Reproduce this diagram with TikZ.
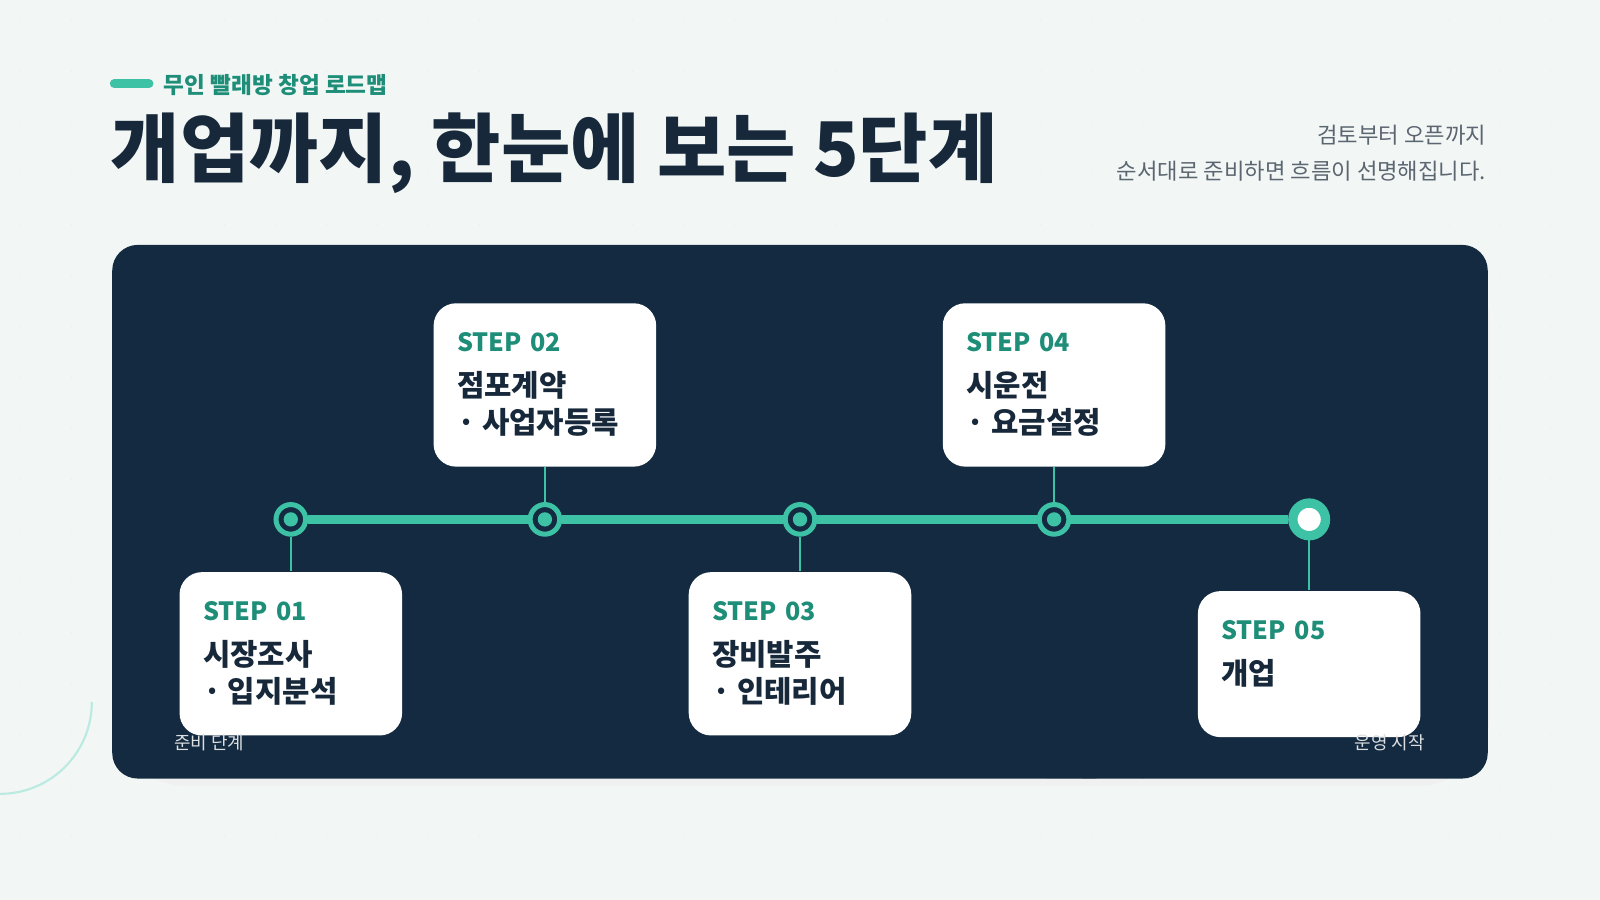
\documentclass[tikz,border=0pt]{standalone}
\usepackage{fontspec}
\setmainfont{Noto Sans CJK KR}
\usetikzlibrary{positioning}
\definecolor{bgpale}{HTML}{F2F7F6}
\definecolor{navy}{HTML}{132A40}
\definecolor{mint}{HTML}{3DC2A6}
\definecolor{teal}{HTML}{1E8E78}
\definecolor{ink}{HTML}{16283A}
\definecolor{greytext}{HTML}{5C6670}
\tikzstyle{card} = [draw=none, fill=white, rounded corners=2.2mm, minimum width=2.18cm, minimum height=1.6cm, inner sep=0pt]
\tikzstyle{dot} = [circle, draw=mint, line width=1.4pt, fill=navy, minimum size=0.29cm, inner sep=0pt]
\tikzstyle{core} = [circle, fill=mint, minimum size=0.14cm, inner sep=0pt]
\tikzstyle{steplabel} = [anchor=west, font=\fontsize{7}{8}\selectfont\bfseries, text=teal, inner sep=0pt]
\tikzstyle{tasktext} = [anchor=west, font=\fontsize{8.3}{9}\selectfont\bfseries, text=ink, inner sep=0pt]
\tikzstyle{stem} = [draw=mint, line width=0.7pt]
\tikzstyle{endnote} = [font=\fontsize{5}{6}\selectfont, text=white!85!navy, inner sep=0pt]
\begin{document}
\begin{tikzpicture}[x=0.01cm, y=-0.01cm, node distance=5mm]
    \fill [bgpale] (0,0) rectangle (1568,882);
    \useasboundingbox (0,0) rectangle (1568,882);
    % Background dots and arcs.
    \foreach \i in {0,...,31} {
        \foreach \j in {0,...,17} {
            \fill [black!7] (20+\i*50,20+\j*50) circle (0.6);
        }
    }
    \draw [mint!35, line width=0.6pt] (1410,0) arc (180:270:150);
    \draw [mint!35, line width=0.6pt] (0,778) arc (90:0:90);

    % Header.
    \draw [mint, line width=2.5pt, line cap=round] (112,82) -- (146,82);
    \node (kicker) [anchor=west, text=teal, font=\fontsize{6.3}{7}\selectfont\bfseries, inner sep=0pt] at (160,83) {무인 빨래방 창업 로드맵};
    \node (title) [anchor=west, text=ink, font=\fontsize{21}{24}\selectfont\bfseries, inner sep=0pt] at (108,150) {개업까지, 한눈에 보는 5단계};
    \node (intro) [anchor=north east, align=right, text=greytext, font=\fontsize{6.2}{10}\selectfont, inner sep=0pt] at (1457,122) {검토부터 오픈까지\\순서대로 준비하면 흐름이 선명해집니다.};

    % Panel.
    \fill [black!6, rounded corners=7mm] (112,246) rectangle (1460,770);
    \fill [navy, rounded corners=2.5mm] (110,240) rectangle (1458,763);
    \begin{scope}
        \clip [rounded corners=2.5mm] (110,240) rectangle (1458,763);
        \draw [white!6!navy, line width=0.6pt] (1120,763) arc (180:80:340);
        \draw [white!4!navy, line width=14pt] (1050,763) arc (180:90:420);
    \end{scope}

    % Timeline.
    \node (c1) [dot] at (285,509) {};
    \node (c2) [dot] at (534,509) {};
    \node (c3) [dot] at (784,509) {};
    \node (c4) [dot] at (1033,509) {};
    \node (c5) [dot, fill=white, line width=2.6pt, minimum size=0.32cm] at (1283,509) {};
    \draw [mint, line width=2.6pt] (c1) -- (c2) -- (c3) -- (c4) -- (c5);
    \foreach \n in {c1, c2, c3, c4} {
        \node [core] at (\n) {};
    }

    % Cards.
    \node (s1) [card, below=3.4mm of c1] {};
    \node (s2) [card, above=3.4mm of c2] {};
    \node (s3) [card, below=3.4mm of c3] {};
    \node (s4) [card, above=3.4mm of c4] {};
    \node (s5) [card, below=4.9mm of c5, minimum height=1.43cm] {};
    \draw [stem] (c1) -- (s1);
    \draw [stem] (c2) -- (s2);
    \draw [stem] (c3) -- (s3);
    \draw [stem] (c4) -- (s4);
    \draw [stem] (c5) -- (s5);

    \foreach \n/\k/\a/\b in {s1/01/시장조사/· 입지분석, s2/02/점포계약/· 사업자등록, s3/03/장비발주/· 인테리어, s4/04/시운전/· 요금설정} {
        \node [steplabel] at ([xshift=2.3mm, yshift=-3.9mm]\n.north west) {STEP\hspace{0.35em}\k};
        \node [tasktext] at ([xshift=2.3mm, yshift=-8.1mm]\n.north west) {\a};
        \node [tasktext] at ([xshift=2.3mm, yshift=-11.7mm]\n.north west) {\b};
    }
    \node [steplabel] at ([xshift=2.3mm, yshift=-3.9mm]s5.north west) {STEP\hspace{0.35em}05};
    \node [tasktext] at ([xshift=2.3mm, yshift=-8.1mm]s5.north west) {개업};

    % Ends.
    \node (start) [endnote, anchor=west] at (170,728) {준비 단계};
    \node (end) [endnote, anchor=east] at (1397,728) {운영 시작};
\end{tikzpicture}
\end{document}
